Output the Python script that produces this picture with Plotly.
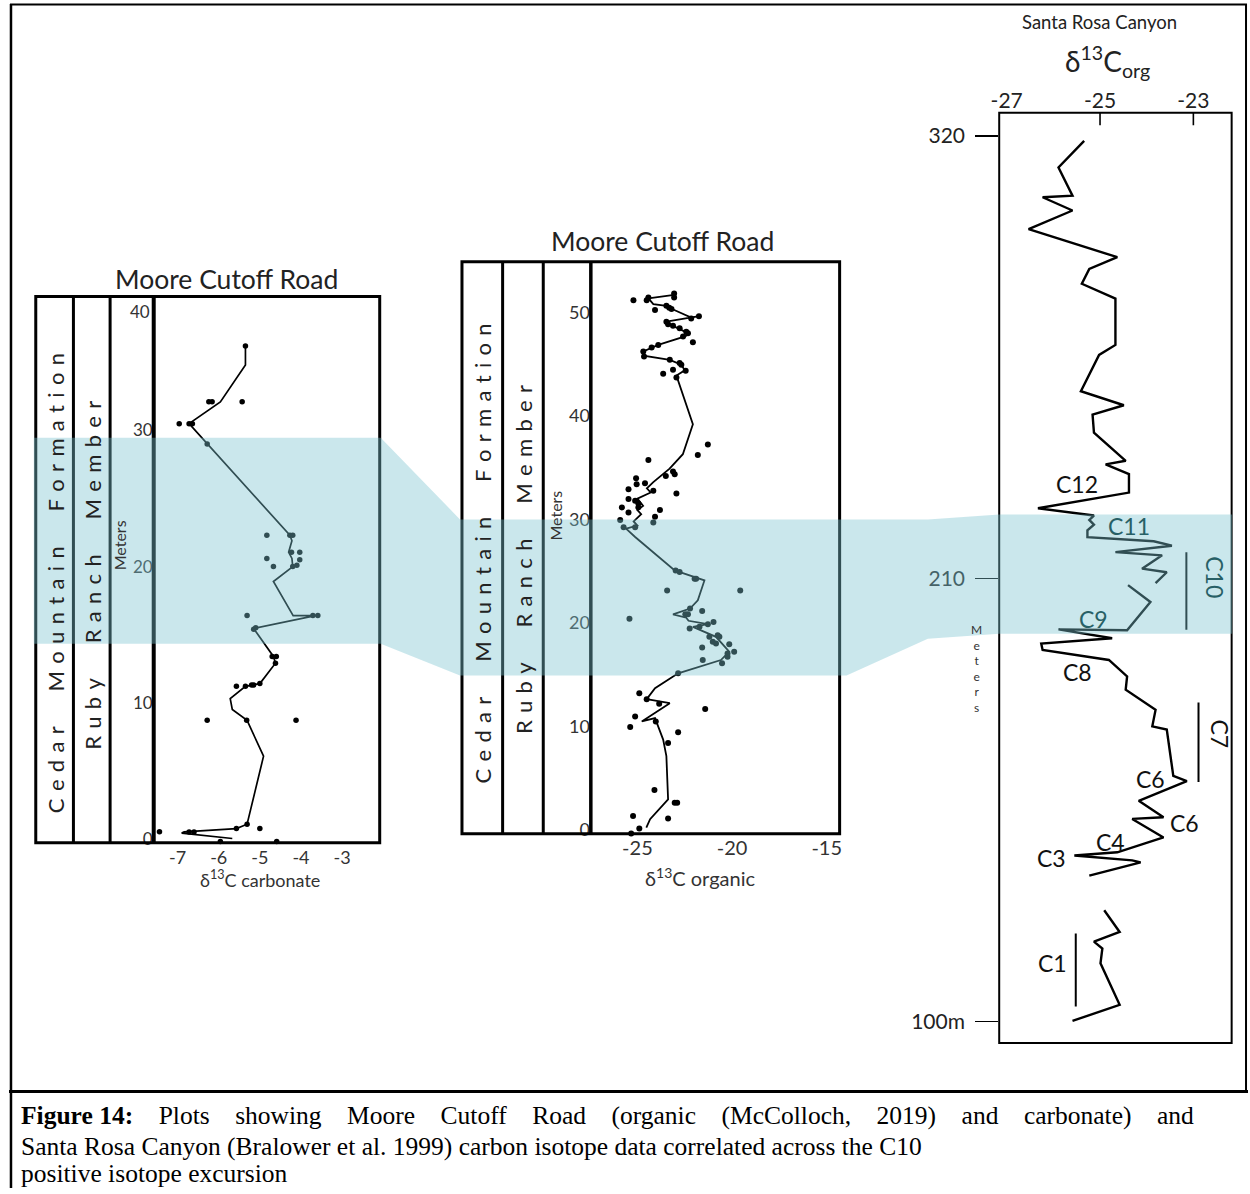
import plotly.graph_objects as go

W, H = 1250, 1194

# ---------------- data ----------------
carb_line_x = [-5.35, -5.35, -5.96, -6.72, -4.27, -4.22, -4.30, -4.22, -4.20, -4.67, -4.19, -3.65, -5.15,
               -4.67, -4.62, -5.00, -5.35, -5.72, -5.67, -5.31, -4.91, -5.31, -5.57, -6.84, -6.90, -5.67]
carb_line_y = [36.2, 34.8, 32.1, 30.5, 22.3, 21.9, 21.05, 20.6, 20.0, 18.9, 16.4, 16.4, 15.45,
               13.4, 12.9, 11.4, 11.2, 10.3, 9.5, 8.7, 6.07, 1.07, 0.75, 0.51, 0.42, 0.02]
carb_pts_x = [-5.35, -6.24, -6.16, -5.43, -6.96, -6.72, -6.64, -6.28, -4.83, -4.27, -4.20, -4.23, -4.03, -4.83,
              -4.67, -4.03, -4.20, -4.10, -3.71, -3.59, -5.31, -5.15, -5.10, -4.70, -4.60, -4.62, -5.57, -5.35,
              -5.20, -5.15, -5.00, -6.28, -5.32, -4.12, -5.31, -5.57, -5.00, -7.44, -6.72, -6.60, -5.96, -4.59]
carb_pts_y = [36.2, 32.1, 32.1, 32.1, 30.5, 30.5, 30.5, 29.0, 22.3, 22.3, 22.3, 21.05, 21.05, 20.6,
              20.0, 20.5, 20.0, 20.1, 16.4, 16.4, 16.4, 15.4, 15.5, 13.4, 13.4, 12.9, 11.2, 11.2,
              11.3, 11.3, 11.4, 8.7, 8.7, 8.7, 1.07, 0.75, 0.75, 0.51, 0.5, 0.5, -0.2, -0.2]

org_line_x = [-23.06, -24.42, -24.16, -23.47, -23.20, -22.16, -21.75, -23.47, -23.12, -22.33, -22.45, -23.90,
              -24.69, -24.60, -23.29, -22.68, -22.50, -22.94, -22.07, -22.60, -23.30, -23.50, -24.16, -24.50,
              -24.30, -25.00, -24.70, -25.00, -24.80, -25.20, -25.00, -25.60, -25.12,
              -23.03, -21.46, -21.81, -22.22, -23.12, -22.42, -22.30, -21.28, -22.07, -20.85, -20.15, -20.59,
              -22.85, -24.07, -24.51, -23.29, -24.77, -24.07, -23.64, -23.47, -23.38, -24.33, -24.53]
org_line_y = [51.7, 51.35, 50.8, 50.64, 50.35, 49.5, 49.64, 49.1, 48.7, 48.0, 47.7, 46.86,
              46.22, 45.8, 45.42, 44.94, 44.4, 43.9, 39.2, 36.3, 34.9, 34.6, 33.6, 33.0,
              32.6, 32.0, 31.3, 30.9, 30.5, 29.8, 29.4, 29.1, 28.3,
              25.07, 24.1, 22.18, 21.38, 20.83, 20.5, 20.2, 19.87, 19.62, 18.65, 17.21, 16.41,
              15.13, 13.68, 12.63, 12.24, 10.48, 10.8, 8.72, 7.12, 2.95, 1.03, 0.22]
org_pts_x = [-23.06, -23.06, -24.42, -24.51, -25.21, -24.07, -23.47, -23.32, -23.20, -22.16,
             -21.75, -23.47, -23.38, -23.12, -22.77, -22.42, -22.33, -22.59, -22.07, -23.90,
             -24.25, -24.69, -24.65, -23.29, -22.77, -22.68, -22.45, -23.12, -22.94, -23.64,
             -21.28, -21.81, -24.42, -23.12, -23.03, -23.50, -25.07, -25.04, -24.60, -24.16,
             -22.94, -25.47, -25.47, -25.12, -24.95, -24.95, -25.82, -25.47, -25.91, -25.73,
             -23.81, -24.07, -24.16, -25.12,
             -22.98, -22.77, -21.98, -21.90, -23.43, -19.57, -21.58, -22.22, -22.33, -22.47,
             -25.42, -20.98, -21.28, -22.24, -21.72, -21.20, -20.76, -20.67, -21.02, -20.85,
             -20.15, -21.58, -20.24, -19.89, -20.53, -21.55, -20.24, -22.85, -24.90, -24.51,
             -23.85, -21.42, -25.12, -24.03, -25.38, -22.85, -23.38, -24.10, -23.03, -22.90,
             -25.23, -23.38, -24.90, -25.33]
org_pts_y = [51.83, 51.44, 51.44, 51.18, 51.18, 50.22, 50.64, 50.45, 50.32, 49.42,
             49.64, 49.10, 48.85, 48.72, 48.46, 48.14, 47.98, 47.66, 47.12, 46.86,
             46.60, 46.22, 45.74, 45.42, 45.10, 44.94, 44.36, 44.45, 43.72, 44.07,
             37.24, 36.22, 35.74, 34.62, 34.36, 34.20, 33.97, 33.40, 33.49, 32.76,
             32.50, 32.92, 31.96, 31.80, 31.54, 31.15, 31.15, 30.67, 29.94, 29.23,
             30.90, 30.26, 29.71, 29.23,
             25.07, 24.91, 24.27, 24.27, 23.13, 23.14, 21.15, 21.38, 20.83, 20.83,
             20.40, 20.08, 19.87, 19.46, 19.62, 18.65, 18.81, 18.65, 18.17, 18.01,
             17.94, 17.63, 17.04, 17.21, 16.09, 16.41, 16.73, 15.13, 13.20, 12.63,
             12.18, 11.67, 10.96, 10.48, 9.94, 9.42, 8.40, 3.85, 2.63, 2.63,
             1.35, 1.09, 0.13, -0.35]

sr_a_x = [-25.34, -25.89, -25.59, -26.23, -25.59, -26.53, -24.63, -25.23, -25.39, -24.67,
          -24.67, -25.02, -25.41, -24.49, -25.16, -25.13, -24.45, -24.88, -24.38, -24.38,
          -26.33, -25.13, -25.23, -25.13, -25.27, -25.27, -23.85, -23.46, -24.67, -23.67,
          -24.10, -23.57, -23.81]
sr_a_m = [318.8, 312.2, 305.2, 304.8, 301.5, 296.9, 289.9, 287.0, 283.3, 279.6,
          268.1, 265.6, 256.6, 253.1, 250.8, 246.3, 239.3, 238.4, 236.0, 231.4,
          227.5, 225.7, 224.6, 223.4, 222.0, 220.3, 219.3, 218.2, 216.6, 215.8,
          212.5, 211.6, 208.9]
sr_b_x = [-24.40, -23.92, -24.42, -25.89, -24.74, -26.26, -26.23, -24.81, -24.42, -24.45, -23.81, -23.88,
          -23.57, -23.43, -23.14, -24.17, -23.64, -24.31, -23.64, -24.63, -25.55, -24.31, -24.13, -25.23]
sr_b_m = [208.4, 204.2, 197.2, 197.4, 195.2, 193.9, 192.3, 189.8, 185.7, 182.4, 177.4, 173.3,
          172.5, 161.0, 159.7, 154.8, 150.7, 150.3, 145.7, 142.0, 141.2, 140.0, 139.5, 136.2]
sr_c_x = [-24.91, -24.58, -25.13, -24.95, -24.99, -24.58, -25.59]
sr_c_m = [127.6, 122.2, 119.8, 118.1, 114.4, 104.1, 100.1]

exc_labels = ["C12", "C11", "C10", "C9", "C8", "C7", "C6", "C6", "C4", "C3", "C1"]
exc_x = [-25.49, -24.38, -22.54, -25.13, -25.48, -22.43, -23.92, -23.18, -24.77, -26.05, -26.01]
exc_m = [233.5, 223.2, 210.4, 200.1, 186.9, 171.3, 160.1, 149.4, 144.5, 140.5, 114.4]
bracket_x = [-23.15, -22.89, -25.52]
bracket_top = [216.6, 179.2, 121.8]
bracket_bot = [197.3, 159.5, 103.7]

carb_xticks = [-7, -6, -5, -4, -3]
org_xticks = [-25, -20, -15]
sr_xticks = [-27, -25, -23]
carb_depth_ticks = [0, 10, 20, 30]
carb_depth_top_label = "40"
org_depth_ticks = [0, 10, 20, 30, 40, 50]
sr_depth_ticks = [100, 210, 320]
sr_depth_text = ["100m", "210", "320"]

formation_words = ["Cedar", "Mountain", "Formation"]
member_words = ["Ruby", "Ranch", "Member"]
caption_bold = "Figure 14:"
caption_line1 = "Plots showing Moore Cutoff Road (organic (McColloch, 2019) and carbonate) and"
caption_line2 = "Santa Rosa Canyon (Bralower et al. 1999) carbon isotope data correlated across the C10"
caption_line3 = "positive isotope excursion"

def X(px):
    return px / W

def Y(py):
    return 1 - py / H

SANS = "Lato, 'Open Sans', sans-serif"
SERIF = "'Liberation Serif', 'Times New Roman', serif"
TEAL_TXT = "rgb(40,96,102)"

fig = go.Figure()
fig.add_trace(go.Scatter(x=carb_line_x, y=carb_line_y, mode="lines", line=dict(color="black", width=1.7),
                         xaxis="x", yaxis="y", cliponaxis=False, showlegend=False))
fig.add_trace(go.Scatter(x=carb_pts_x, y=carb_pts_y, mode="markers", marker=dict(color="black", size=5.5),
                         xaxis="x", yaxis="y", cliponaxis=False, showlegend=False))
fig.add_trace(go.Scatter(x=org_line_x, y=org_line_y, mode="lines", line=dict(color="black", width=1.8),
                         xaxis="x2", yaxis="y2", cliponaxis=False, showlegend=False))
fig.add_trace(go.Scatter(x=org_pts_x, y=org_pts_y, mode="markers", marker=dict(color="black", size=6),
                         xaxis="x2", yaxis="y2", cliponaxis=False, showlegend=False))
for sx, sm in [(sr_a_x, sr_a_m), (sr_b_x, sr_b_m), (sr_c_x, sr_c_m)]:
    fig.add_trace(go.Scatter(x=sx, y=sm, mode="lines", line=dict(color="black", width=2.4),
                             xaxis="x3", yaxis="y3", showlegend=False))
for bx, bt, bb in zip(bracket_x, bracket_top, bracket_bot):
    fig.add_trace(go.Scatter(x=[bx, bx], y=[bt, bb], mode="lines", line=dict(color="black", width=2),
                             xaxis="x3", yaxis="y3", showlegend=False))

axis_common = dict(showgrid=False, zeroline=False, showline=False, fixedrange=True)

fig.update_layout(
    width=W, height=H, margin=dict(l=0, r=0, t=0, b=0, pad=0),
    paper_bgcolor="white", plot_bgcolor="rgba(0,0,0,0)",
    showlegend=False,
    xaxis=dict(domain=[X(146), X(373)], range=[-7.58, -2.11], anchor="y",
               tickvals=carb_xticks, ticktext=[str(v) for v in carb_xticks], ticks="",
               tickfont=dict(family=SANS, size=18, color="#333"), ticklabelstandoff=2, **axis_common),
    yaxis=dict(domain=[Y(847), Y(298)], range=[-0.29, 39.84], anchor="x",
               tickvals=carb_depth_ticks, ticktext=[str(v) for v in carb_depth_ticks], ticks="",
               tickfont=dict(family=SANS, size=17, color="#333"), ticklabelstandoff=0, **axis_common),
    xaxis2=dict(domain=[X(587), X(838)], range=[-27.46, -14.32], anchor="y2",
                tickvals=org_xticks, ticktext=[str(v) for v in org_xticks], ticks="",
                tickfont=dict(family=SANS, size=20, color="#333"), ticklabelstandoff=0, **axis_common),
    yaxis2=dict(domain=[Y(838), Y(262.7)], range=[-0.38, 54.93], anchor="x2",
                tickvals=org_depth_ticks, ticktext=[str(v) for v in org_depth_ticks], ticks="",
                tickfont=dict(family=SANS, size=18, color="#333"), ticklabelstandoff=0, **axis_common),
    xaxis3=dict(domain=[X(999), X(1233.5)], range=[-27.16, -22.18], anchor="y3", side="top",
                tickvals=sr_xticks, ticktext=[str(v) for v in sr_xticks], ticks="",
                tickfont=dict(family=SANS, size=21, color="#222"), ticklabelstandoff=0, **axis_common),
    yaxis3=dict(domain=[Y(1048.3), Y(113.3)], range=[94.6, 325.8], anchor="x3",
                tickvals=sr_depth_ticks, ticktext=sr_depth_text, ticks="outside", ticklen=23,
                tickwidth=1.6, tickcolor="black",
                tickfont=dict(family=SANS, size=21, color="#222"), ticklabelstandoff=6, **axis_common),
)

ann = []

def txt(text, px, py, size, family=SANS, color="#222", angle=0, xanchor="center", yanchor="middle", **kw):
    ann.append(dict(text=text, x=X(px), y=Y(py), xref="paper", yref="paper", showarrow=False,
                    font=dict(family=family, size=size, color=color), textangle=angle,
                    xanchor=xanchor, yanchor=yanchor, **kw))

txt("Moore Cutoff Road", 219, 280, 26.5)
txt("Moore Cutoff Road", 659, 242, 26.5)
txt("Santa Rosa Canyon", 1100, 22, 18.5)
txt("δ<sup>13</sup>C<sub>org</sub>", 1108, 62, 28)
txt("δ<sup>13</sup>C carbonate", 253, 883, 18, color="#333")
txt("δ<sup>13</sup>C organic", 697, 881, 20, color="#333")
txt(carb_depth_top_label, 144, 313, 17, color="#333", xanchor="right")

LG = "\u2004"
WG = "\u2003\u2002\u2004"

def spaced(words):
    return WG.join(LG.join(list(w)) for w in words)

txt(spaced(formation_words), 46.5, 586, 22, angle=-90)
txt(spaced(member_words), 83.5, 578, 22, angle=-90)
txt(spaced(formation_words), 477.5, 556, 22, angle=-90)
txt(spaced(member_words), 518.5, 562, 22, angle=-90)
txt("Meters", 111, 548, 16, color="#333", angle=-90)
txt("Meters", 551, 518, 16, color="#333", angle=-90)
txt("M<br>e<br>t<br>e<br>r<br>s", 976, 672, 12, color="#333")

for lab, ex, em in zip(exc_labels, exc_x, exc_m):
    inband = lab in ("C11", "C10", "C9")
    ann.append(dict(text=lab, x=ex, y=em, xref="x3", yref="y3", showarrow=False,
                    xanchor="center", yanchor="middle",
                    textangle=(90 if lab in ("C10", "C7") else 0),
                    font=dict(family=SANS, size=23, color=(TEAL_TXT if inband else "#111"))))

NB = " \u00a0\u00a0\u00a0"
line1 = "<b>" + caption_bold + "</b>" + NB + NB.join(caption_line1.split(" "))
txt(line1, 10, 1121, 25.5, family=SERIF, color="black", xanchor="left")
txt(caption_line2, 10, 1152, 25.5, family=SERIF, color="black", xanchor="left")
txt(caption_line3, 10, 1179, 25.5, family=SERIF, color="black", xanchor="left")

fig.update_layout(annotations=ann)

shapes = []

def ln(x0, y0, x1, y1, w=3, color="black"):
    shapes.append(dict(type="line", xref="paper", yref="paper", x0=X(x0), y0=Y(y0), x1=X(x1), y1=Y(y1),
                       line=dict(color=color, width=w), layer="above"))

def rect(x0, y0, x1, y1, w=3):
    shapes.append(dict(type="rect", xref="paper", yref="paper", x0=X(x0), y0=Y(y0), x1=X(x1), y1=Y(y1),
                       line=dict(color="black", width=w), fillcolor="rgba(0,0,0,0)", layer="above"))

# outer frame and caption separator
ln(2, 4, 2, 1194, 2.5)
ln(1, 4.5, 1249, 4.5, 2)
ln(1248, 4, 1248, 1097, 2)
ln(0, 1097, 1250, 1097, 3)

# stratigraphic columns and plot boxes
rect(27, 298, 374, 847, 3)
ln(65, 298, 65, 847, 3)
ln(102, 298, 102, 847, 3)
ln(146, 298, 146, 847, 4)
rect(457, 263, 838, 838, 3)
ln(498, 263, 498, 838, 3)
ln(539, 263, 539, 838, 3)
ln(587, 263, 587, 838, 3.5)
rect(999, 113.3, 1233.5, 1048.3, 2)
for v in sr_xticks[1:]:
    shapes.append(dict(type="line", xref="x3", yref="paper", x0=v, x1=v, y0=Y(113.3), y1=Y(126),
                       line=dict(color="black", width=1.6), layer="above"))

# correlation band (semi-transparent overlay)
band = [(25, 440), (375, 440), (455, 522), (927, 522), (999, 517), (1234, 517), (1234, 637),
        (999, 637), (927, 642), (845, 679), (455, 679), (375, 647), (25, 647)]
path = "M " + " L ".join(f"{X(a):.5f},{Y(b):.5f}" for a, b in band) + " Z"
shapes.append(dict(type="path", xref="paper", yref="paper", path=path,
                   fillcolor="rgb(122,195,207)", opacity=0.4, line=dict(width=0), layer="above"))

fig.update_layout(shapes=shapes)

fig.write_html("out.html", config={"staticPlot": True, "displayModeBar": False})
